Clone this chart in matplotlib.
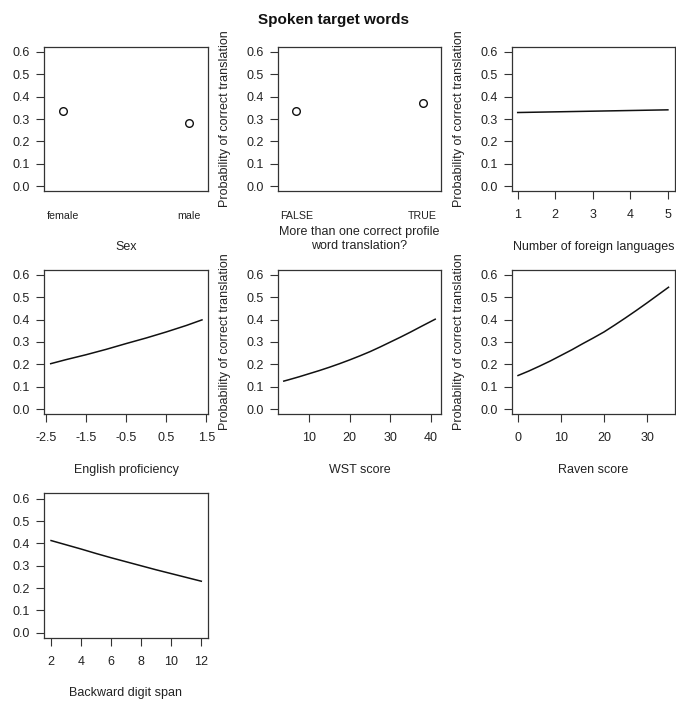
import matplotlib
matplotlib.use("Agg")
import matplotlib.pyplot as plt
import numpy as np

plt.rcParams['font.family'] = ['Liberation Sans', 'DejaVu Sans']

# ---- data ----
sex_cats = ["female", "male"]
sex_vals = [0.335, 0.282]

multi_cats = ["FALSE", "TRUE"]
multi_vals = [0.335, 0.372]

nlang_x = [1, 2, 3, 4, 5]
nlang_y = [0.329, 0.332, 0.335, 0.338, 0.341]

eng_x = [-2.38, -2.0, -1.5, -1.0, -0.5, 0.0, 0.5, 1.0, 1.39]
eng_y = [0.203, 0.221, 0.243, 0.267, 0.293, 0.318, 0.345, 0.374, 0.399]

wst_x = [3.8, 5, 7.5, 10, 12.5, 15, 17.5, 20, 22.5, 25, 27.5, 30, 32.5, 35, 37.5, 41]
wst_y = [0.125, 0.131, 0.144, 0.158, 0.172, 0.187, 0.203, 0.220, 0.238, 0.257,
         0.278, 0.300, 0.322, 0.345, 0.369, 0.402]

raven_x = [0, 2.5, 5, 7.5, 10, 12.5, 15, 17.5, 20, 22.5, 25, 27.5, 30, 32.5, 35]
raven_y = [0.150, 0.170, 0.192, 0.215, 0.240, 0.265, 0.292, 0.318, 0.345, 0.376,
           0.408, 0.441, 0.475, 0.510, 0.545]

bds_x = [2, 3, 4, 5, 6, 7, 8, 9, 10, 11, 12]
bds_y = [0.413, 0.394, 0.375, 0.355, 0.336, 0.318, 0.300, 0.282, 0.265, 0.248, 0.231]

yticks = [0.0, 0.1, 0.2, 0.3, 0.4, 0.5, 0.6]
ylab = "Probability of correct translation"
title = "Spoken target words"

W, H = 676, 710
fig = plt.figure(figsize=(W / 100, H / 100), dpi=100)

def rect(l, t, r, b):
    return [l / W, 1 - b / H, (r - l) / W, (b - t) / H]

cols = [(44.3, 207.6), (277.7, 441.3), (511.7, 675.4)]
rows = [(46.6, 191.4), (269.6, 414.4), (493.4, 638.2)]
TXT = '#222222'
EDGE = '#333333'

def make_ax(ci, ri):
    l, r = cols[ci]
    t, b = rows[ri]
    ax = fig.add_axes(rect(l, t, r, b))
    ax.set_ylim(-0.024, 0.624)
    ax.set_yticks(yticks)
    ax.set_yticklabels([f"{v:.1f}" for v in yticks])
    for s in ax.spines.values():
        s.set_color(EDGE)
        s.set_linewidth(0.9)
    ax.tick_params(axis='y', direction='out', length=6, width=0.8, pad=4.3,
                   labelsize=9, colors=EDGE, labelcolor=TXT)
    ax.tick_params(axis='x', direction='out', length=6, width=0.8, pad=7,
                   labelsize=9, colors=EDGE, labelcolor=TXT)
    return ax

def xlabel(ci, ri, text, base_off=58.2):
    l, r = cols[ci]
    t, b = rows[ri]
    fig.text(((l + r) / 2) / W, 1 - (b + base_off) / H, text, ha='center',
             va='baseline', fontsize=9, color=TXT)

def ylabel(ci, ri):
    l, r = cols[ci]
    t, b = rows[ri]
    fig.text((l - 52.7) / W, 1 - ((t + b) / 2) / H, ylab, rotation=90,
             ha='center', va='center', fontsize=9, color=TXT)

# Panel 1: Sex
ax = make_ax(0, 0)
ax.plot([1, 2], sex_vals, 'o', mfc='none', mec='#111111', ms=5.5, mew=1.0)
ax.set_xlim(0.852, 2.148)
ax.set_xticks([1, 2])
ax.set_xticklabels(sex_cats)
ax.tick_params(axis='x', length=0, pad=14, labelsize=7.7)
xlabel(0, 0, "Sex")

# Panel 2: more than one correct
ax = make_ax(1, 0)
ax.plot([1, 2], multi_vals, 'o', mfc='none', mec='#111111', ms=5.5, mew=1.0)
ax.set_xlim(0.852, 2.148)
ax.set_xticks([1, 2])
ax.set_xticklabels(multi_cats)
ax.tick_params(axis='x', length=0, pad=14, labelsize=7.7)
l, r = cols[1]
fig.text(((l + r) / 2) / W, 1 - 235 / H, "More than one correct profile",
         ha='center', va='baseline', fontsize=9, color=TXT)
fig.text(((l + r) / 2) / W, 1 - 249.4 / H, "word translation?",
         ha='center', va='baseline', fontsize=9, color=TXT)
ylabel(1, 0)

# Panel 3: number of foreign languages
ax = make_ax(2, 0)
ax.plot(nlang_x, nlang_y, '-', color='#111111', lw=1.1)
ax.set_xlim(0.84, 5.2)
ax.set_xticks([1, 2, 3, 4, 5])
xlabel(2, 0, "Number of foreign languages")
ylabel(2, 0)

# Panel 4: English proficiency
ax = make_ax(0, 1)
ax.plot(eng_x, eng_y, '-', color='#111111', lw=1.1)
ax.set_xlim(-2.54, 1.53)
ax.set_xticks([-2.5, -1.5, -0.5, 0.5, 1.5])
ax.set_xticklabels(["-2.5", "-1.5", "-0.5", "0.5", "1.5"])
xlabel(0, 1, "English proficiency")

# Panel 5: WST
ax = make_ax(1, 1)
ax.plot(wst_x, wst_y, '-', color='#111111', lw=1.1)
ax.set_xlim(2.3, 42.5)
ax.set_xticks([10, 20, 30, 40])
xlabel(1, 1, "WST score")
ylabel(1, 1)

# Panel 6: Raven
ax = make_ax(2, 1)
ax.plot(raven_x, raven_y, '-', color='#111111', lw=1.1)
ax.set_xlim(-1.47, 36.6)
ax.set_xticks([0, 10, 20, 30])
xlabel(2, 1, "Raven score")
ylabel(2, 1)

# Panel 7: Backward digit span
ax = make_ax(0, 2)
ax.plot(bds_x, bds_y, '-', color='#111111', lw=1.1)
ax.set_xlim(1.55, 12.42)
ax.set_xticks([2, 4, 6, 8, 10, 12])
xlabel(0, 2, "Backward digit span")

fig.text(334 / W, 1 - 20 / H, title, ha='center', va='center',
         fontsize=11, fontweight='bold', color='#111111')

fig.savefig("out.png", dpi=100)
